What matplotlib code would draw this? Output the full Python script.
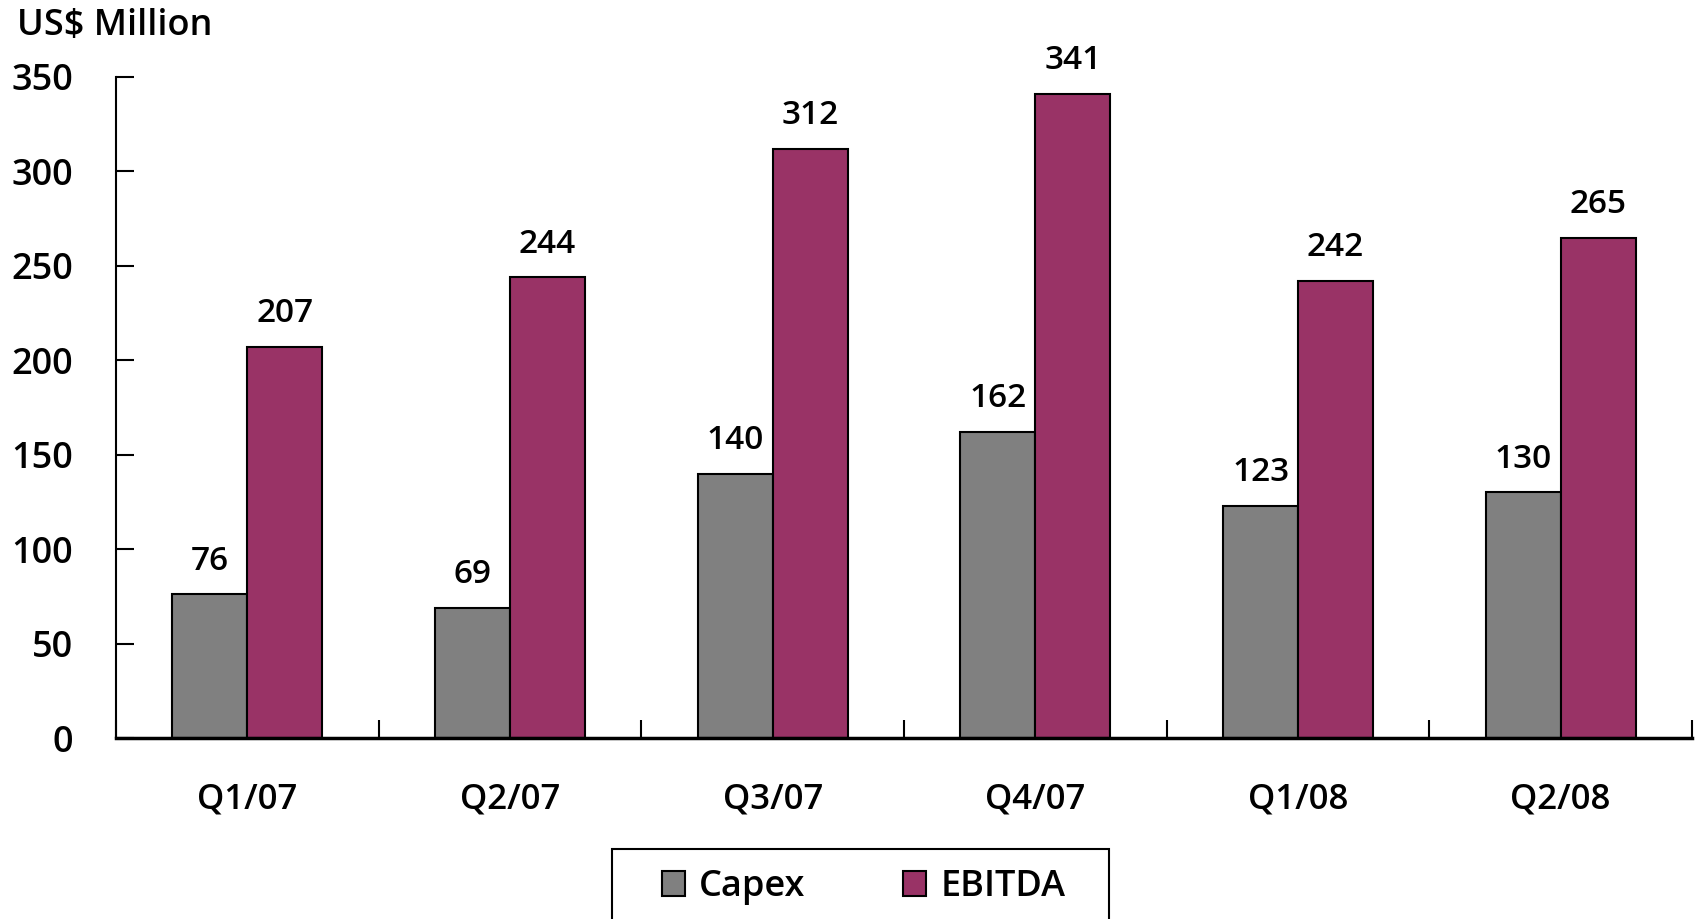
import matplotlib
matplotlib.use("Agg")
import matplotlib.pyplot as plt
from matplotlib.patches import Rectangle
import numpy as np

# quarterly values, US$ million
quarters = ["Q1/07", "Q2/07", "Q3/07", "Q4/07", "Q1/08", "Q2/08"]
capex = [76, 69, 140, 162, 123, 130]
ebitda = [207, 244, 312, 341, 242, 265]

plt.rcParams['font.family'] = ['Open Sans', 'DejaVu Sans']
plt.rcParams['font.weight'] = 600

gray = '#808080'
plum = '#993366'

W, H = 1696, 919
fig = plt.figure(figsize=(W / 100, H / 100), dpi=100)
ax = fig.add_axes([116 / W, 1 - 738 / H, 1576 / W, 661 / H])

x = np.arange(len(quarters))
w = 0.285
b1 = ax.bar(x - w / 2, capex, w, color=gray, edgecolor='black', linewidth=1.5, label='Capex')
b2 = ax.bar(x + w / 2, ebitda, w, color=plum, edgecolor='black', linewidth=1.5, label='EBITDA')

# value labels above bars
for bars, vals in ((b1, capex), (b2, ebitda)):
    for r, v in zip(bars, vals):
        ax.annotate(str(v), (r.get_x() + r.get_width() / 2, r.get_height()),
                    xytext=(0, 12), textcoords='offset points',
                    ha='center', va='bottom', fontsize=24)

ax.set_xlim(-0.5, len(quarters) - 0.5)
ax.set_ylim(0, 350)
ax.set_yticks(range(0, 351, 50))

# ticks at category boundaries, labels at centres
ax.set_xticks(np.arange(-0.5, len(quarters), 1.0))
ax.set_xticklabels([])
ax.set_xticks(x, minor=True)
ax.set_xticklabels(quarters, minor=True)
ax.tick_params(axis='x', which='major', direction='in', length=13, width=1.5)
ax.tick_params(axis='x', which='minor', length=0, pad=32, labelsize=25)
ax.tick_params(axis='y', direction='in', length=13, width=1.5, pad=31, labelsize=26)

for s in ('top', 'right'):
    ax.spines[s].set_visible(False)
ax.spines['left'].set_linewidth(1.5)
ax.spines['bottom'].set_linewidth(2.5)

fig.text(17 / W, 1 - 26 / H, 'US$ Million', fontsize=26, va='center', ha='left')

# legend box runs off the bottom edge, as in the original
fig.patches.append(Rectangle((612 / W, 1 - 935 / H), 497 / W, 86 / H,
                             transform=fig.transFigure, fill=False,
                             edgecolor='black', linewidth=1.5))
fig.legend(handles=[b1, b2], loc='center left',
           bbox_to_anchor=(662 / W, 1 - 887 / H),
           ncol=2, frameon=False, fontsize=26,
           handlelength=0.64, handleheight=0.7, handletextpad=0.39,
           columnspacing=2.7, borderpad=0, borderaxespad=0)

fig.savefig('out.png', dpi=100)
